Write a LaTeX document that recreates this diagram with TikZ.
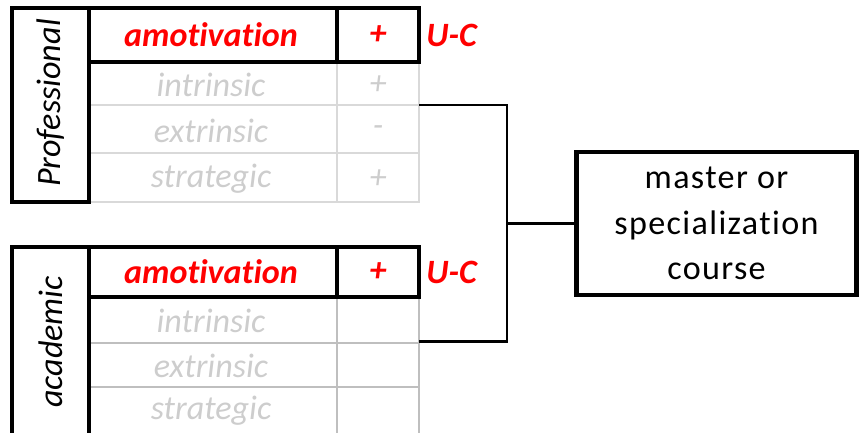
\documentclass[tikz,border=0pt]{standalone}
\usepackage{fontspec}
\setmainfont{Carlito}[Ligatures={NoCommon}]
\newfontfamily\spacedfont{Carlito}[LetterSpace=4, Ligatures={NoCommon}]

\definecolor{fadedtext}{RGB}{205,205,205}
\definecolor{gridlight}{RGB}{217,217,217}
\definecolor{griddark}{RGB}{191,191,191}
\newcommand{\picsize}{\fontsize{9.7}{13}\selectfont}

\tikzset{
  heavy/.style={line width=1.4pt},
  link/.style={line width=0.85pt},
  faint/.style={draw=gridlight, line width=0.75pt},
  fainter/.style={draw=griddark, line width=0.75pt},
  amo/.style={text=red, font=\picsize\bfseries\itshape},
  motive/.style={text=fadedtext, font=\picsize\itshape},
  group/.style={rotate=90, font=\picsize\itshape},
}

\begin{document}
\begin{tikzpicture}
    \useasboundingbox (0,0) rectangle (8.59,4.33);
    \clip (0,0) rectangle (8.59,4.33);

    % Professional
    \draw[faint] (0.89,3.71) rectangle (4.19,2.31);
    \draw[faint] (0.89,3.28) -- (4.19,3.28);
    \draw[faint] (0.89,2.80) -- (4.19,2.80);
    \draw[faint] (3.37,3.71) -- (3.37,2.31);
    \draw[heavy] (0.12,4.25) rectangle (0.89,2.31);
    \draw[heavy] (0.89,4.25) rectangle (4.19,3.71);
    \draw[heavy] (3.37,4.25) -- (3.37,3.71);

    \node[group] (pLabel) at (0.505,3.30) {Professional};
    \node[amo] (pAmo) at (2.11,3.98) {amotivation};
    \node[amo] (pAmoSign) at (3.78,3.98) {+};
    \node[amo, anchor=west] (pUC) at (4.14,3.98) {U-C};
    \node[motive] (pIntr) at (2.11,3.48) {intrinsic};
    \node[motive] (pIntrSign) at (3.78,3.48) {+};
    \node[motive] (pExtr) at (2.11,3.02) {extrinsic};
    \node[motive] (pExtrSign) at (3.78,3.02) {-};
    \node[motive] (pStra) at (2.11,2.54) {strategic};
    \node[motive] (pStraSign) at (3.78,2.54) {+};

    % academic
    \draw[fainter] (0.89,1.36) rectangle (4.19,-0.2);
    \draw[fainter] (0.89,0.90) -- (4.19,0.90);
    \draw[fainter] (0.89,0.46) -- (4.19,0.46);
    \draw[fainter] (3.37,1.36) -- (3.37,-0.2);
    \draw[heavy] (0.12,1.86) rectangle (0.89,-0.2);
    \draw[heavy] (0.89,1.86) rectangle (4.19,1.36);
    \draw[heavy] (3.37,1.86) -- (3.37,1.36);

    \node[group] (aLabel) at (0.505,0.91) {academic};
    \node[amo] (aAmo) at (2.11,1.61) {amotivation};
    \node[amo] (aAmoSign) at (3.78,1.61) {+};
    \node[amo, anchor=west] (aUC) at (4.14,1.61) {U-C};
    \node[motive] (aIntr) at (2.11,1.12) {intrinsic};
    \node[motive] (aExtr) at (2.11,0.67) {extrinsic};
    \node[motive] (aStra) at (2.11,0.22) {strategic};

    % course
    \node[heavy, draw, minimum width=2.80cm, minimum height=1.43cm,
          align=center, font=\spacedfont\picsize, inner sep=0pt] (master)
          at (7.165,2.095) {master or\\specialization\\course};

    \coordinate (profEnd) at (4.19,3.28);
    \coordinate (acadEnd) at (4.19,0.91);
    \coordinate (fork) at (5.07,2.095);
    \draw[link] (profEnd) -| (fork) |- (acadEnd);
    \draw[link] (fork) -- (master.west);
\end{tikzpicture}
\end{document}
